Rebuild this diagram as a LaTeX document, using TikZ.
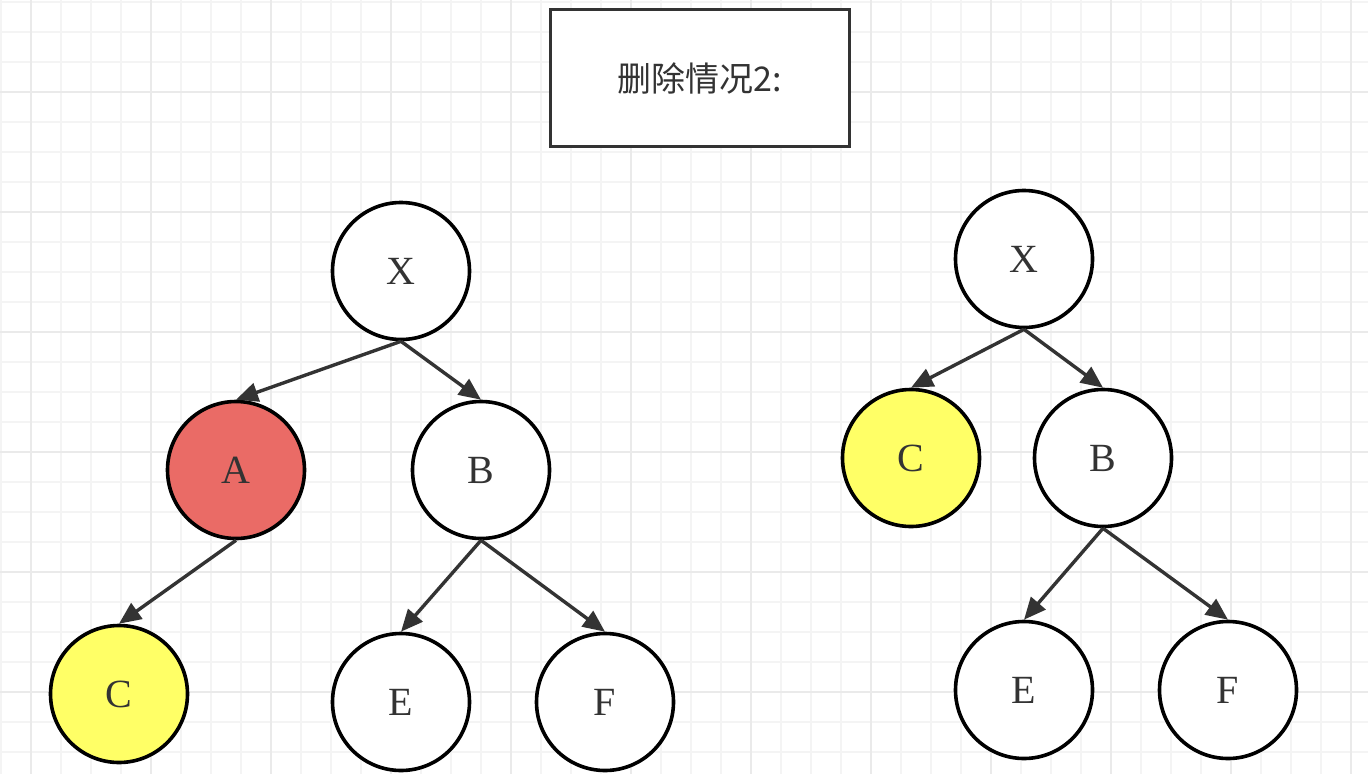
\documentclass[tikz,border=0pt]{standalone}
\usepackage{fontspec}
\setmainfont{Liberation Serif}
\newfontfamily\cjk{Noto Sans CJK SC}
\usetikzlibrary{arrows.meta}
\definecolor{txt}{HTML}{333333}
\definecolor{redfill}{HTML}{EA6B66}
\definecolor{yelfill}{HTML}{FFFF66}
\definecolor{gridminor}{HTML}{F4F4F4}
\definecolor{gridmajor}{HTML}{EAEAEA}
\begin{document}
\begin{tikzpicture}[x=1pt,y=-1pt,
  treenode/.style={circle, draw=black, line width=3.6pt, minimum size=137pt, inner sep=0pt,
    font=\fontsize{40}{40}\selectfont, text=txt, fill=white},
  rednode/.style={treenode, fill=redfill},
  yelnode/.style={treenode, fill=yelfill},
  link/.style={draw=txt, line width=3.4pt, -{Triangle[length=22pt,width=19pt]}},
  gminor/.style={draw=gridminor, line width=1.2pt},
  gmajor/.style={draw=gridmajor, line width=1.6pt}]
\useasboundingbox (0,0) rectangle (1368,774);
\fill[white] (0,0) rectangle (1368,774);
% grid
\foreach \x in {1,31,...,1381} \draw[gminor] (\x,0) -- (\x,774);
\foreach \y in {2,32,...,772} \draw[gminor] (0,\y) -- (1368,\y);
\foreach \x in {31,151,...,1351} \draw[gmajor] (\x,0) -- (\x,774);
\foreach \y in {92,212,...,752} \draw[gmajor] (0,\y) -- (1368,\y);
% title
\node[draw=txt, line width=3.4pt, minimum width=299pt, minimum height=137pt, fill=white,
  text=txt, font=\cjk\fontsize{34}{34}\selectfont] (title) at (700,78) {删除情况2:};
% left tree
\node[treenode] (X1) at (401,271) {X};
\node[rednode] (A1) at (236,470) {A};
\node[treenode] (B1) at (481,470) {B};
\node[yelnode] (C1) at (119,694) {C};
\node[treenode] (E1) at (401,702) {E};
\node[treenode] (F1) at (605,702) {F};
\draw[link] (X1.south) -- (A1.north);
\draw[link] (X1.south) -- (B1.north);
\draw[link] (A1.south) -- (C1.north);
\draw[link] (B1.south) -- (E1.north);
\draw[link] (B1.south) -- (F1.north);
% right tree
\node[treenode] (X2) at (1024,259) {X};
\node[yelnode] (C2) at (911,458) {C};
\node[treenode] (B2) at (1103,458) {B};
\node[treenode] (E2) at (1024,690) {E};
\node[treenode] (F2) at (1228,690) {F};
\draw[link] (X2.south) -- (C2.north);
\draw[link] (X2.south) -- (B2.north);
\draw[link] (B2.south) -- (E2.north);
\draw[link] (B2.south) -- (F2.north);
\end{tikzpicture}
\end{document}
